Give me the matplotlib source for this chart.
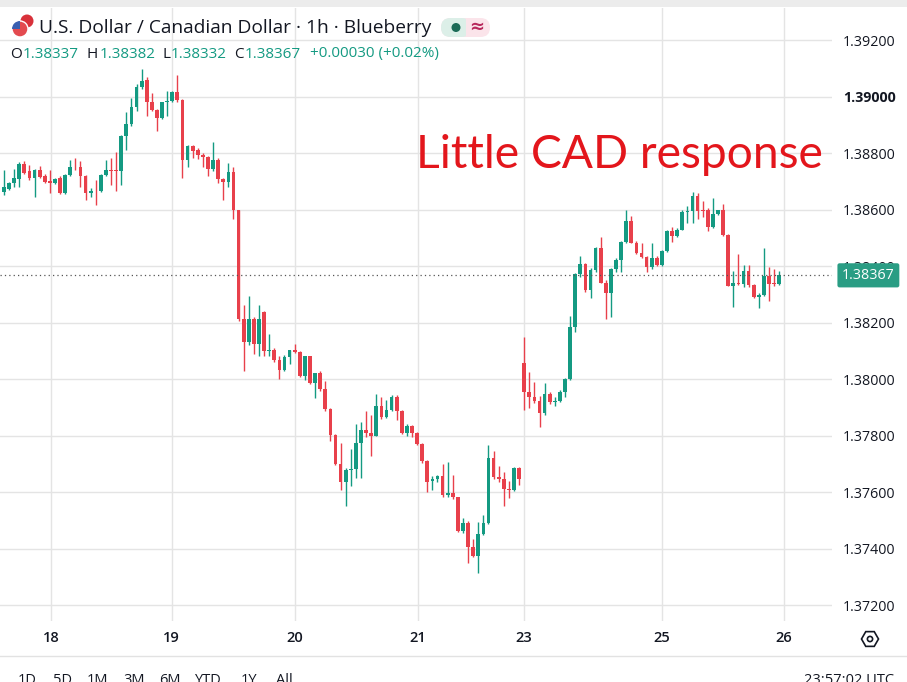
import numpy as np
import matplotlib
matplotlib.use('Agg')
import matplotlib.pyplot as plt
from matplotlib.patches import Rectangle, FancyBboxPatch, Circle, RegularPolygon, Wedge
from matplotlib.transforms import IdentityTransform
from matplotlib.lines import Line2D

# hourly USD/CAD candles
opens = [1.38663, 1.38673, 1.38693, 1.38707, 1.38762, 1.38735, 1.38711, 1.38741, 1.38717, 1.38701,
         1.38695, 1.38710, 1.38657, 1.38721, 1.38752, 1.38750, 1.38717, 1.38657, 1.38667, 1.38665,
         1.38721, 1.38741, 1.38741, 1.38738, 1.38860, 1.38901, 1.38964, 1.39032, 1.39058, 1.38982,
         1.38952, 1.38925, 1.38979, 1.38984, 1.39017, 1.38988, 1.38776, 1.38826, 1.38810, 1.38794,
         1.38786, 1.38743, 1.38776, 1.38707, 1.38699, 1.38732, 1.38600, 1.38211, 1.38131, 1.38211,
         1.38123, 1.38236, 1.38099, 1.38104, 1.38066, 1.38033, 1.38077, 1.38101, 1.38095, 1.38012,
         1.38080, 1.37985, 1.38020, 1.37964, 1.37893, 1.37801, 1.37699, 1.37635, 1.37679, 1.37682,
         1.37773, 1.37820, 1.37808, 1.37800, 1.37906, 1.37867, 1.37891, 1.37938, 1.37887, 1.37808,
         1.37835, 1.37808, 1.37769, 1.37711, 1.37640, 1.37647, 1.37655, 1.37588, 1.37596, 1.37581,
         1.37461, 1.37491, 1.37406, 1.37373, 1.37450, 1.37491, 1.37722, 1.37652, 1.37647, 1.37612,
         1.37608, 1.37685, 1.38055, 1.37955, 1.37935, 1.37923, 1.37878, 1.37947, 1.37920, 1.37923,
         1.37955, 1.37999, 1.38183, 1.38372, 1.38407, 1.38315, 1.38386, 1.38463, 1.38341, 1.38306,
         1.38388, 1.38421, 1.38486, 1.38560, 1.38483, 1.38447, 1.38433, 1.38395, 1.38430, 1.38403,
         1.38454, 1.38524, 1.38506, 1.38529, 1.38592, 1.38595, 1.38647, 1.38600, 1.38600, 1.38539,
         1.38583, 1.38598, 1.38509, 1.38329, 1.38340, 1.38337, 1.38383, 1.38332, 1.38291, 1.38297,
         1.38364, 1.38340, 1.38337]
highs = [1.38741, 1.38699, 1.38743, 1.38767, 1.38770, 1.38758, 1.38745, 1.38755, 1.38726, 1.38741,
         1.38712, 1.38717, 1.38726, 1.38774, 1.38782, 1.38770, 1.38721, 1.38675, 1.38705, 1.38726,
         1.38776, 1.38782, 1.38802, 1.38865, 1.38945, 1.38996, 1.39044, 1.39098, 1.39068, 1.39014,
         1.38955, 1.38981, 1.39020, 1.39020, 1.39076, 1.38990, 1.38830, 1.38830, 1.38818, 1.38800,
         1.38790, 1.38838, 1.38782, 1.38710, 1.38764, 1.38750, 1.38600, 1.38262, 1.38294, 1.38220,
         1.38262, 1.38240, 1.38158, 1.38108, 1.38080, 1.38085, 1.38104, 1.38123, 1.38098, 1.38083,
         1.38083, 1.38023, 1.38027, 1.37993, 1.37897, 1.37807, 1.37774, 1.37685, 1.37752, 1.37840,
         1.37847, 1.37887, 1.37873, 1.37946, 1.37938, 1.37926, 1.37942, 1.37942, 1.37891, 1.37840,
         1.37838, 1.37812, 1.37773, 1.37714, 1.37655, 1.37661, 1.37700, 1.37706, 1.37659, 1.37584,
         1.37508, 1.37497, 1.37432, 1.37494, 1.37519, 1.37767, 1.37746, 1.37691, 1.37671, 1.37640,
         1.37688, 1.37688, 1.38148, 1.38026, 1.37990, 1.37940, 1.37985, 1.37955, 1.37937, 1.37961,
         1.38003, 1.38223, 1.38377, 1.38435, 1.38412, 1.38392, 1.38469, 1.38504, 1.38350, 1.38392,
         1.38427, 1.38490, 1.38598, 1.38577, 1.38489, 1.38480, 1.38436, 1.38482, 1.38435, 1.38456,
         1.38529, 1.38538, 1.38533, 1.38600, 1.38613, 1.38663, 1.38659, 1.38630, 1.38604, 1.38639,
         1.38600, 1.38619, 1.38512, 1.38383, 1.38442, 1.38403, 1.38403, 1.38336, 1.38304, 1.38462,
         1.38395, 1.38390, 1.38382]
lows = [1.38651, 1.38669, 1.38681, 1.38679, 1.38726, 1.38705, 1.38643, 1.38711, 1.38693, 1.38660,
        1.38690, 1.38655, 1.38655, 1.38719, 1.38741, 1.38681, 1.38633, 1.38645, 1.38616, 1.38663,
        1.38717, 1.38687, 1.38667, 1.38687, 1.38812, 1.38895, 1.38949, 1.39025, 1.38931, 1.38949,
        1.38877, 1.38920, 1.38931, 1.38980, 1.38979, 1.38711, 1.38752, 1.38782, 1.38779, 1.38752,
        1.38717, 1.38735, 1.38693, 1.38633, 1.38679, 1.38568, 1.38205, 1.38030, 1.38122, 1.38089,
        1.38083, 1.38083, 1.38080, 1.38060, 1.37999, 1.38030, 1.38052, 1.38092, 1.38006, 1.37995,
        1.37982, 1.37932, 1.37958, 1.37887, 1.37780, 1.37694, 1.37607, 1.37551, 1.37623, 1.37649,
        1.37649, 1.37796, 1.37729, 1.37797, 1.37859, 1.37863, 1.37887, 1.37855, 1.37804, 1.37800,
        1.37796, 1.37765, 1.37703, 1.37600, 1.37608, 1.37635, 1.37584, 1.37584, 1.37577, 1.37458,
        1.37455, 1.37349, 1.37370, 1.37314, 1.37447, 1.37488, 1.37647, 1.37637, 1.37549, 1.37580,
        1.37604, 1.37624, 1.37890, 1.37896, 1.37914, 1.37829, 1.37872, 1.37912, 1.37905, 1.37918,
        1.37937, 1.37996, 1.38168, 1.38360, 1.38309, 1.38286, 1.38380, 1.38339, 1.38211, 1.38221,
        1.38380, 1.38380, 1.38482, 1.38480, 1.38442, 1.38427, 1.38380, 1.38391, 1.38399, 1.38399,
        1.38450, 1.38484, 1.38501, 1.38527, 1.38553, 1.38553, 1.38565, 1.38574, 1.38525, 1.38536,
        1.38580, 1.38505, 1.38329, 1.38255, 1.38334, 1.38325, 1.38324, 1.38285, 1.38250, 1.38294,
        1.38277, 1.38330, 1.38332]
closes = [1.38679, 1.38693, 1.38711, 1.38762, 1.38731, 1.38711, 1.38741, 1.38714, 1.38699, 1.38695,
          1.38707, 1.38657, 1.38721, 1.38752, 1.38750, 1.38717, 1.38657, 1.38667, 1.38665, 1.38721,
          1.38741, 1.38738, 1.38738, 1.38860, 1.38901, 1.38964, 1.39032, 1.39056, 1.38981, 1.38952,
          1.38925, 1.38979, 1.38984, 1.39017, 1.38986, 1.38776, 1.38826, 1.38806, 1.38794, 1.38786,
          1.38743, 1.38776, 1.38707, 1.38699, 1.38732, 1.38600, 1.38211, 1.38131, 1.38211, 1.38123,
          1.38214, 1.38099, 1.38104, 1.38066, 1.38033, 1.38077, 1.38101, 1.38095, 1.38012, 1.38080,
          1.37985, 1.38020, 1.37964, 1.37893, 1.37801, 1.37699, 1.37635, 1.37679, 1.37682, 1.37773,
          1.37820, 1.37808, 1.37800, 1.37906, 1.37867, 1.37891, 1.37938, 1.37887, 1.37808, 1.37835,
          1.37808, 1.37769, 1.37711, 1.37635, 1.37647, 1.37655, 1.37588, 1.37596, 1.37581, 1.37461,
          1.37491, 1.37406, 1.37373, 1.37450, 1.37491, 1.37722, 1.37652, 1.37647, 1.37612, 1.37608,
          1.37685, 1.37647, 1.37955, 1.37935, 1.37923, 1.37878, 1.37947, 1.37920, 1.37923, 1.37955,
          1.37999, 1.38183, 1.38372, 1.38407, 1.38315, 1.38386, 1.38463, 1.38341, 1.38306, 1.38388,
          1.38421, 1.38486, 1.38560, 1.38483, 1.38447, 1.38433, 1.38395, 1.38430, 1.38403, 1.38454,
          1.38524, 1.38506, 1.38529, 1.38592, 1.38595, 1.38647, 1.38595, 1.38595, 1.38539, 1.38583,
          1.38598, 1.38509, 1.38329, 1.38340, 1.38337, 1.38383, 1.38332, 1.38291, 1.38297, 1.38364,
          1.38336, 1.38337, 1.38367]

day_labels = ['18', '19', '20', '21', '23', '25', '26']
day_bars = [9.2, 32.9, 57.1, 81.2, 102.0, 129.0, 152.9]   # bar index where each day label sits
price_ticks = [1.372, 1.374, 1.376, 1.378, 1.380, 1.382, 1.384, 1.386, 1.388, 1.390, 1.392]
last_price = 1.38367

title = 'U.S. Dollar / Canadian Dollar \u00b7 1h \u00b7 Blueberry'
ohlc_letters = ['O', 'H', 'L', 'C']
ohlc_values = ['1.38337', '1.38382', '1.38332', '1.38367']
change_text = '+0.00030 (+0.02%)'
note = 'Little CAD response'
ranges = ['1D', '5D', '1M', '3M', '6M', 'YTD', '1Y', 'All']
clock = '23:57:02 UTC'

GREEN = '#149a82'
RED = '#e8404b'
INK = '#131722'
GRID = '#e4e4e4'
W, H = 907, 682

fig = plt.figure(figsize=(W / 100, H / 100), dpi=100)
fig.patch.set_facecolor('white')
ax = fig.add_axes([0, 1 - 621 / H, 832 / W, (621 - 8) / H])

o = np.array(opens); h = np.array(highs); l = np.array(lows); c = np.array(closes)
idx = np.arange(len(o))
cols = np.where(c >= o, GREEN, RED)
ax.vlines(idx, l, h, colors=cols, lw=1, zorder=3)
ax.bar(idx, np.maximum(np.abs(c - o), 0.00002), bottom=np.minimum(o, c), width=0.74,
       color=cols, linewidth=0, zorder=4)

ax.set_xlim(-0.78, 162.35)
ax.set_ylim(1.371434, 1.393133)
ax.set_xticks(day_bars)
ax.set_xticklabels(day_labels)
ax.set_yticks(price_ticks)
ax.set_yticklabels(['%.5f' % p for p in price_ticks])
ax.yaxis.tick_right()
ax.tick_params(axis='both', length=0, colors=INK)
ax.tick_params(axis='y', pad=8, labelsize=10.3)
ax.tick_params(axis='x', pad=7, labelsize=10.5)
for t in ax.get_yticklabels() + ax.get_xticklabels():
    t.set_family('Open Sans')
for t in ax.get_xticklabels():
    t.set_fontweight('semibold')
ax.get_yticklabels()[9].set_fontweight('bold')
ax.grid(True, color=GRID, lw=1, zorder=0)
for s in ax.spines.values():
    s.set_visible(False)

# last price line + tag
ax.axhline(last_price, color='#555555', lw=0.9, ls=(0, (1, 2.5)), zorder=5)
ax.annotate('1.38367', xy=(1, last_price), xycoords=('axes fraction', 'data'),
            xytext=(10, 0), textcoords='offset pixels', ha='left', va='center',
            color='white', fontsize=10.3, family='Open Sans',
            bbox=dict(boxstyle='round,pad=0.32,rounding_size=0.15', fc='#2a9d84', ec='none'),
            annotation_clip=False, zorder=10)

def fx(x):
    return x / W

def fy(y):
    return 1 - y / H

px = IdentityTransform()

# top strip and header
fig.patches.append(Rectangle((0, H - 7), W, 7, transform=px, fc='#ececec', ec='none'))
fig.patches.append(Circle((27, H - 21), 6.5, transform=px, fc='#d8313a', ec='none'))
fig.patches.append(Circle((20, H - 29), 8, transform=px, fc='#e34a4f', ec='white', lw=1))
fig.patches.append(Wedge((20, H - 29), 8, 90, 180, transform=px, fc='#3a5fb0', ec='none'))
fig.text(fx(39), fy(28), title, fontsize=13.8, color=INK, family='Open Sans', va='center')

fig.patches.append(FancyBboxPatch((441, H - 37), 49, 19, boxstyle='round,pad=0,rounding_size=9.5',
                                  transform=px, fc='#fbe4ea', ec='none'))
fig.patches.append(FancyBboxPatch((441, H - 37), 30, 19, boxstyle='round,pad=0,rounding_size=9.5',
                                  transform=px, fc='#dcefe8', ec='none'))
fig.patches.append(Rectangle((466, H - 37), 8, 19, transform=px, fc='#fbe4ea', ec='none'))
fig.patches.append(Circle((456, H - 27.5), 4.5, transform=px, fc='#1c6b57', ec='none'))
fig.text(fx(477), fy(27), '\u2248', fontsize=13, color='#b8285c', ha='center', va='center',
         fontweight='bold')

# O H L C readout: each value sits right after its letter
letter_x = [10, 87, 162, 234]
for lx, let, val in zip(letter_x, ohlc_letters, ohlc_values):
    lt = fig.text(fx(lx), fy(54), let, fontsize=11, color=INK, family='Open Sans', va='center')
    fig.add_artist(matplotlib.text.Annotation(val, xy=(1, 0.5), xycoords=lt, xytext=(1, 0),
                                              textcoords='offset pixels', ha='left', va='center',
                                              fontsize=11, color=GREEN, family='Open Sans'))
fig.text(fx(310), fy(54), change_text, fontsize=11, color=GREEN, family='Open Sans', va='center')

# annotation
fig.text(fx(416), fy(155), note, fontsize=33.2, color='#e3161c', family='Lato', va='center')

# settings icon
fig.patches.append(RegularPolygon((870, H - 639), 6, radius=8.5, orientation=np.pi / 6,
                                  transform=px, fc='none', ec=INK, lw=1.2))
fig.patches.append(Circle((870, H - 639), 2.6, transform=px, fc='none', ec=INK, lw=1.2))

# bottom toolbar (cut by the bottom edge, as in the screenshot)
fig.add_artist(Line2D([0, 1], [fy(656), fy(656)], color='#e2e2e2', lw=1))
range_x = [18, 53, 87, 123, 159, 195, 241, 276]
for rx, r in zip(range_x, ranges):
    fig.text(fx(rx), fy(673), r, fontsize=10.5, color=INK, family='Open Sans', va='top')
fig.text(fx(894), fy(673), clock, fontsize=10.5, color=INK, family='Open Sans', va='top', ha='right')

fig.savefig('out.png', dpi=100)
